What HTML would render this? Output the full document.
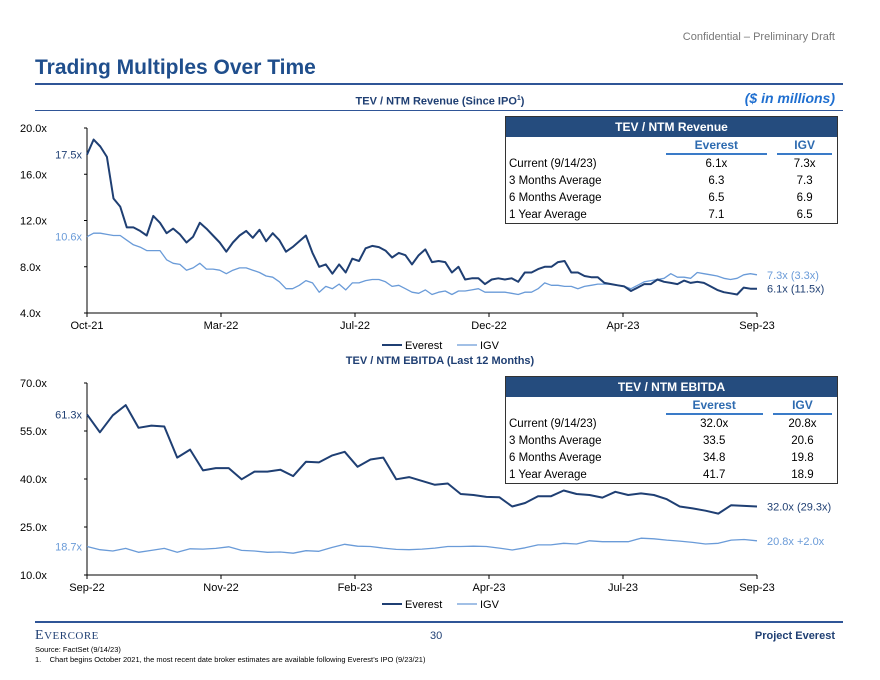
<!DOCTYPE html>
<html><head><meta charset="utf-8"><style>
*{margin:0;padding:0;box-sizing:border-box}
body{width:880px;height:680px;background:#fff;font-family:"Liberation Sans",Arial,sans-serif;position:relative;overflow:hidden;color:#000}
.abs{position:absolute}
table.t{position:absolute;border:1px solid #333;border-collapse:collapse;font-size:11.5px}
.t td{padding:0 3px;height:17px}
.t .hd{background:#254C7E;color:#fff;font-weight:bold;text-align:center;height:20px;font-size:12px}
.t .ch{color:#2E6BB0;font-weight:bold;text-align:center;height:19px;font-size:12px}
.t .ch span{display:block;border-bottom:2px solid #3A7BC8;margin:0 2px;line-height:15px}
.t .num{text-align:center}
</style></head><body>
<div class="abs" style="right:45px;top:31px;font-size:11px;color:#777">Confidential – Preliminary Draft</div>
<div class="abs" style="left:35px;top:56px;font-size:21px;font-weight:bold;color:#1F4E8C">Trading Multiples Over Time</div>
<div class="abs" style="left:35px;top:83px;width:808px;height:2px;background:#2F5597"></div>
<div class="abs" style="left:0;width:880px;top:95px;text-align:center;font-size:11px;font-weight:bold;color:#1F3F73">TEV / NTM Revenue (Since IPO<sup style="font-size:7px">1</sup>)</div>
<div class="abs" style="right:45px;top:90px;font-size:14px;font-weight:bold;font-style:italic;color:#1F6FD0">($ in millions)</div>
<div class="abs" style="left:35px;top:110px;width:808px;height:1px;background:#2F5597"></div>

<svg class="abs" style="left:0;top:0" width="880" height="680" id="svg"></svg>

<table class="t" style="left:505px;top:116px;width:333px">
<tr><td class="hd" colspan="3">TEV / NTM Revenue</td></tr>
<tr><td style="width:155px"></td><td class="ch"><span>Everest</span></td><td class="ch"><span>IGV</span></td></tr>
<tr><td>Current (9/14/23)</td><td class="num">6.1x</td><td class="num">7.3x</td></tr>
<tr><td>3 Months Average</td><td class="num">6.3</td><td class="num">7.3</td></tr>
<tr><td>6 Months Average</td><td class="num">6.5</td><td class="num">6.9</td></tr>
<tr><td>1 Year Average</td><td class="num">7.1</td><td class="num">6.5</td></tr>
</table>
<table class="t" style="left:505px;top:376px;width:333px">
<tr><td class="hd" colspan="3">TEV / NTM EBITDA</td></tr>
<tr><td style="width:155px"></td><td class="ch"><span>Everest</span></td><td class="ch"><span>IGV</span></td></tr>
<tr><td>Current (9/14/23)</td><td class="num">32.0x</td><td class="num">20.8x</td></tr>
<tr><td>3 Months Average</td><td class="num">33.5</td><td class="num">20.6</td></tr>
<tr><td>6 Months Average</td><td class="num">34.8</td><td class="num">19.8</td></tr>
<tr><td>1 Year Average</td><td class="num">41.7</td><td class="num">18.9</td></tr>
</table>

<div class="abs" style="left:0;width:880px;top:355px;text-align:center;font-size:11px;font-weight:bold;color:#1F3F73">TEV / NTM EBITDA (Last 12 Months)</div>

<div class="abs" style="left:35px;top:621px;width:808px;height:2px;background:#2F5597"></div>
<div class="abs" style="left:35px;top:628px;font-family:'Liberation Serif',serif;font-size:14px;color:#1F3F73;letter-spacing:0.5px">E<span style="font-size:11px">VERCORE</span></div>
<div class="abs" style="left:430px;top:630px;font-size:11px;color:#1F3F73">30</div>
<div class="abs" style="right:45px;top:630px;font-size:11px;font-weight:bold;color:#1F3F73">Project Everest</div>
<div class="abs" style="left:35px;top:645px;font-size:7.5px">Source: FactSet (9/14/23)</div>
<div class="abs" style="left:35px;top:655px;font-size:7.5px">1.&nbsp;&nbsp;&nbsp; Chart begins October 2021, the most recent date broker estimates are available following Everest’s IPO (9/23/21)</div>

<script>
const topEverest=[17.7,19.0,18.4,17.5,13.9,13.2,11.4,11.4,11.1,10.7,12.4,11.8,10.9,11.3,10.8,10.1,10.6,11.8,11.3,10.7,10.1,9.3,10.1,10.7,11.1,10.5,11.2,10.2,10.9,10.3,9.3,9.7,10.2,10.7,9.2,8.0,8.2,7.4,8.2,7.5,8.7,8.5,9.6,9.8,9.7,9.4,8.8,9.2,9.0,8.2,9.0,9.5,8.4,8.5,8.4,7.5,8.0,6.9,7.0,7.0,6.5,6.9,7.0,6.9,7.0,6.7,7.5,7.5,7.8,8.0,8.0,8.4,8.5,7.5,7.5,7.2,7.1,7.1,6.6,6.5,6.4,6.3,5.9,6.2,6.5,6.5,6.9,6.7,6.6,6.5,6.8,6.6,6.7,6.6,6.3,6.0,5.8,5.7,5.6,6.2,6.1,6.1];
const topIGV=[10.6,10.9,10.9,10.8,10.7,10.7,10.3,9.9,9.7,9.4,9.4,9.4,8.6,8.3,8.2,7.7,7.9,8.3,7.8,7.8,7.7,7.4,7.7,7.9,7.9,7.7,7.5,7.2,7.1,6.7,6.1,6.1,6.4,6.8,6.6,5.8,6.3,6.1,6.5,6.0,6.6,6.6,6.8,6.9,6.9,6.7,6.3,6.4,6.1,5.8,5.7,6.0,5.6,5.8,5.9,5.6,5.9,5.9,6.0,6.1,5.8,5.8,5.8,5.8,5.7,5.6,5.8,5.8,6.1,6.6,6.4,6.4,6.3,6.3,6.1,6.3,6.4,6.5,6.5,6.5,6.4,6.3,6.1,6.4,6.7,6.8,6.9,7.0,7.4,7.1,7.1,7.0,7.5,7.4,7.3,7.2,7.0,6.9,7.0,7.3,7.4,7.3];
const topTicks=[20,16,12,8,4];
const topXLabels=["Oct-21","Mar-22","Jul-22","Dec-22","Apr-23","Sep-23"];
const botEverest=[60.2,54.6,59.9,63.1,56.0,56.7,56.4,46.7,49.2,42.7,43.4,43.4,39.9,42.3,42.3,42.9,40.9,45.4,45.2,47.3,48.5,43.8,46.1,46.7,39.9,40.6,39.4,38.2,38.6,35.3,35.0,34.4,34.3,31.4,32.5,34.6,34.6,36.4,35.3,35.0,34.2,36.0,35.0,35.5,35.0,33.7,31.4,30.8,30.1,29.2,31.8,31.6,31.4];
const botIGV=[18.9,17.9,17.5,18.3,17.1,17.7,18.3,17.1,18.2,18.1,18.3,18.8,17.7,17.5,17.1,17.2,16.8,17.6,17.4,18.6,19.6,19.0,18.9,18.4,18.0,17.9,18.1,18.4,18.9,18.9,19.0,18.9,18.4,17.8,18.5,19.4,19.4,19.9,19.7,20.7,20.4,20.4,20.4,21.5,21.3,20.9,20.6,20.2,19.7,19.9,20.9,21.1,20.7];
const botTicks=[70,55,40,25,10];
const botXLabels=["Sep-22","Nov-22","Feb-23","Apr-23","Jul-23","Sep-23"];
const DARK="#1F3F73",LIGHT="#6A9BD8";
const svg=document.getElementById('svg');const NS="http://www.w3.org/2000/svg";
function mk(t,a,txt){const e=document.createElementNS(NS,t);for(const k in a)e.setAttribute(k,a[k]);if(txt!=null)e.textContent=txt;svg.appendChild(e);return e;}
function chart(o){
 const x0=87,x1=757;
 const y=v=>o.yb-(v-o.min)/(o.max-o.min)*(o.yb-o.yt);
 const ax=mk('line',{x1:x0,y1:o.yt,x2:x0,y2:o.yb,stroke:'#000','stroke-width':1});
 
 const bx=mk('line',{x1:x0,y1:o.yb,x2:x1,y2:o.yb,stroke:'#000','stroke-width':1});
 
 o.ticks.forEach(t=>{mk('line',{x1:x0-3,y1:y(t),x2:x0,y2:y(t),stroke:'#000'});
  const l=mk('text',{x:20,y:y(t)+4,'font-size':11,fill:'#000'},t.toFixed(1)+'x');
  });
 const n=o.xl.length;
 o.xl.forEach((s,i)=>{const xx=x0+i*(x1-x0)/(n-1);mk('line',{x1:xx,y1:o.yb,x2:xx,y2:o.yb+4,stroke:'#000'});
  const l=mk('text',{x:xx,y:o.yb+16,'font-size':11,'text-anchor':'middle'},s);
  });
 [[o.igv,LIGHT,1.3,'igv'],[o.ev,DARK,2,'everest']].forEach(([d,c,w,nm])=>{
  const pts=d.map((v,i)=>(x0+i*(x1-x0)/(d.length-1)).toFixed(1)+','+y(v).toFixed(1)).join(' ');
  const pl=mk('polyline',{points:pts,fill:'none',stroke:c,'stroke-width':w,'stroke-linejoin':'round'});
  
  const s=mk('text',{x:82,y:y(d[0])+4,'font-size':11,fill:c,'text-anchor':'end'},(nm=='igv'?o.igvStart:o.evStart));
  
  const e=mk('text',{x:767,y:y(d[d.length-1])+4,'font-size':11,fill:c,'xml:space':'preserve'},(nm=='igv'?o.igvEnd:o.evEnd));
  
 });
 const ly=o.legY;
 mk('line',{x1:382,y1:ly,x2:402,y2:ly,stroke:DARK,'stroke-width':2});
 const a=mk('text',{x:405,y:ly+4,'font-size':11},'Everest');
 mk('line',{x1:457,y1:ly,x2:477,y2:ly,stroke:LIGHT,'stroke-width':1.3});
 const b=mk('text',{x:480,y:ly+4,'font-size':11},'IGV');
}
chart({p:'revenue',yt:128,yb:313,min:4,max:20,ticks:topTicks,xl:topXLabels,ev:topEverest,igv:topIGV,evStart:'17.5x',igvStart:'10.6x',evEnd:'6.1x  (11.5x)',igvEnd:'7.3x  (3.3x)',legY:345});
chart({p:'ebitda',yt:383,yb:575,min:10,max:70,ticks:botTicks,xl:botXLabels,ev:botEverest,igv:botIGV,evStart:'61.3x',igvStart:'18.7x',evEnd:'32.0x  (29.3x)',igvEnd:'20.8x  +2.0x',legY:604});
</script>
</body></html>
